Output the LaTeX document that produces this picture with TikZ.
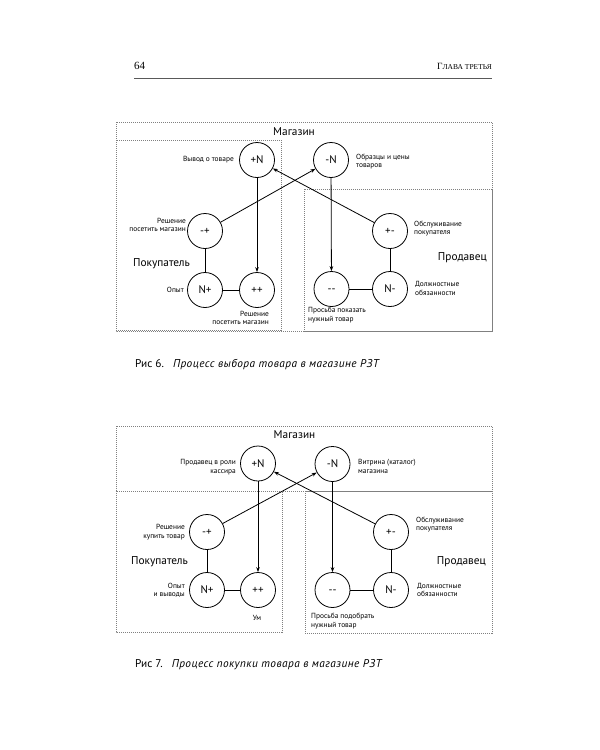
\documentclass[tikz,border=0pt]{standalone}
\usepackage{fontspec}
\setmainfont{PT Sans}
\newfontfamily\hdrfont{Liberation Serif}
\usetikzlibrary{arrows.meta}
\tikzset{
  st/.style={circle, draw, line width=0.8pt, minimum size=35pt, inner sep=0pt, text height=7.6pt, text depth=0pt, font=\fontsize{11}{12}\selectfont},
  lblr/.style={anchor=east, align=right, inner sep=0pt, font=\fontsize{7.4}{8.6}\selectfont},
  lbll/.style={anchor=west, align=left, inner sep=0pt, font=\fontsize{7.4}{8.6}\selectfont},
  role/.style={inner sep=0pt, font=\fontsize{11.3}{13}\selectfont},
  figcap/.style={anchor=west, inner sep=0pt, font=\fontsize{11.3}{13}\selectfont},
  boxd/.style={draw=black!50, dash pattern=on 1pt off 1pt, line width=0.5pt},
  conn/.style={line width=0.8pt},
  arr/.style={line width=0.8pt, -{Stealth[length=5pt,width=3.6pt]}}
}
\begin{document}
\begin{tikzpicture}[x=1pt,y=-1pt]
\useasboundingbox (0,0) rectangle (600,750);
% header
\node[anchor=west, inner sep=0pt, font=\hdrfont\fontsize{11}{12}\selectfont] (pg) at (134,66) {64};
\node[anchor=east, inner sep=0pt, font=\hdrfont\fontsize{9.5}{12}\selectfont] (ch) at (492,66) {Г{\fontsize{7.5}{9}\selectfont ЛАВА ТРЕТЬЯ}};
\coordinate (hl) at (134,78);
\coordinate (hr) at (492,78);
\draw[line width=0.6pt, black!65] (hl) -- (hr);

% ===== Figure 6 =====
\draw[boxd] (116,122) rectangle (492,331);
\draw[boxd] (116,140) rectangle (281,330);
\draw[boxd] (304,189) rectangle (492,331);
\node[role] (tmag) at (294,131.5) {Магазин};

\node[st] (tPN) at (257,160) {+N};
\node[st] (tMN) at (331,160) {-N};
\node[st] (tMP) at (205,231) {-+};
\node[st] (tNP) at (205,290) {N+};
\node[st] (tPP) at (257,290) {++};
\node[st] (tPM) at (390,231) {+-};
\node[st] (tMM) at (331.5,289) {{-}{-}};
\node[st] (tNM) at (390,289) {N-};

\draw[arr] (tPN) -- (tPP);
\draw[arr] (tMN) -- (tMM);
\draw[arr] (tMP) -- (tMN);
\draw[arr] (tPM) -- (tPN);
\draw[conn] (tMP) -- (tNP);
\draw[conn] (tNP) -- (tPP);
\draw[conn] (tPM) -- (tNM);
\draw[conn] (tMM) -- (tNM);

\node[lblr] (tl1) at (234,160) {Вывод о товаре};
\node[lbll] (tl2) at (356,161.5) {Образцы и цены\\товаров};
\node[lblr] (tl3) at (186,225) {Решение\\посетить магазин};
\node[role, anchor=west] (tbuy) at (133,264) {Покупатель};
\node[lblr] (tl4) at (184,290) {Опыт};
\node[lblr] (tl5) at (269,318) {Решение\\посетить магазин};
\node[lbll] (tl6) at (414,228.5) {Обслуживание\\покупателя};
\node[role, anchor=east] (tsel) at (487,258) {Продавец};
\node[lbll] (tl7) at (415,288.5) {Должностные\\обязанности};
\node[lbll] (tl8) at (308,315) {Просьба показать\\нужный товар};

\node[figcap] (cap6) at (135,365) {Рис 6.\hspace{5pt} {\itshape\addfontfeature{LetterSpace=4}Процесс выбора товара в магазине РЗТ}};

% ===== Figure 7 =====
\draw[boxd] (116,426) rectangle (492,491);
\draw[boxd] (116,491) rectangle (282,632);
\draw[boxd] (305,491) rectangle (492,633);
\node[role] (bmag) at (294.5,434.5) {Магазин};

\node[st] (bPN) at (258,463.5) {+N};
\node[st] (bMN) at (332.5,464) {-N};
\node[st] (bMP) at (207,532) {-+};
\node[st] (bNP) at (207,590) {N+};
\node[st] (bPP) at (258,590) {++};
\node[st] (bPM) at (391,532) {+-};
\node[st] (bMM) at (332.5,590) {{-}{-}};
\node[st] (bNM) at (391,590) {N-};

\draw[arr] (bPN) -- (bPP);
\draw[arr] (bMN) -- (bMM);
\draw[arr] (bMP) -- (bMN);
\draw[arr] (bPM) -- (bPN);
\draw[conn] (bMP) -- (bNP);
\draw[conn] (bNP) -- (bPP);
\draw[conn] (bPM) -- (bNM);
\draw[conn] (bMM) -- (bNM);

\node[lblr] (bl1) at (236,467) {Продавец в роли\\кассира};
\node[lbll] (bl2) at (358,466.5) {Витрина (каталог)\\магазина};
\node[lblr] (bl3) at (185,532) {Решение\\купить товар};
\node[role, anchor=west] (bbuy) at (131,562) {Покупатель};
\node[lblr] (bl4) at (185,590.5) {Опыт\\и выводы};
\node[inner sep=0pt, font=\fontsize{7.4}{8.6}\selectfont] (bl5) at (257,618) {Ум};
\node[lbll] (bl6) at (416,524.5) {Обслуживание\\покупателя};
\node[role, anchor=east] (bsel) at (486,562) {Продавец};
\node[lbll] (bl7) at (417,590) {Должностные\\обязанности};
\node[lbll] (bl8) at (311,621) {Просьба подобрать\\нужный товар};

\node[figcap] (cap7) at (135,665) {Рис 7.\hspace{5pt} {\itshape\addfontfeature{LetterSpace=4}Процесс покупки товара в магазине РЗТ}};
\end{tikzpicture}
\end{document}
